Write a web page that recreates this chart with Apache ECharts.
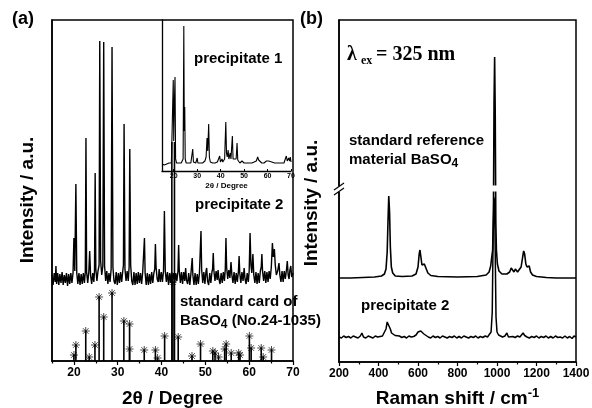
<!DOCTYPE html>
<html>
<head>
<meta charset="utf-8">
<script src="https://cdn.jsdelivr.net/npm/echarts@6.0.0/dist/echarts.min.js"></script>
<style>
html,body{margin:0;padding:0;background:#fff;}
#c{width:592px;height:408px;}
</style>
</head>
<body>
<div id="c"></div>
<script>
// ---------- DATA ----------
// XRD axis ticks
const xrdTicks = [20, 30, 40, 50, 60, 70];
const xrdMinor = [15, 25, 35, 45, 55, 65];

// Standard card BaSO4 (No.24-1035): stick positions (2θ) and heights (a.u.)
const cardPos = [20.0, 20.45, 22.7, 23.5, 24.8, 25.75, 26.8, 28.7, 31.4, 32.7, 32.7, 36.05, 38.6, 39.1, 40.7, 42.6, 43.8, 46.95, 48.9, 51.7, 52.2, 53.0, 54.4, 54.75, 55.9, 57.6, 57.9, 60.05, 60.45, 62.75, 63.2, 65.1];
const cardInt = [6, 16, 30, 4, 16, 64, 44, 68, 40, 37, 12, 11, 11, 3, 25, 79, 24, 5, 17, 10, 8, 4, 12, 17, 8, 8, 6, 25, 13, 13, 4, 11];
// very tall doublet line near 42.7°
const tallPos = [42.35, 42.95];
const tallInt = [219, 219];

// precipitate 2 XRD pattern [2θ, intensity]
const prec2XRD = [
[15.0,86],[15.25,76],[15.5,88],[15.75,79],[15.9,95],[16.05,77],[16.3,88],[16.55,76],[16.8,87],[17.05,78],[17.3,89],[17.55,76],[17.8,86],[18.05,78],[18.3,88],[18.55,75],[18.8,87],[19.05,77],[19.3,88],[19.55,78],[19.8,88],
[20.0,123],[20.2,90],[20.45,177],[20.65,88],[20.9,77],[21.15,88],[21.4,76],[21.65,87],[21.9,77],[22.15,88],[22.4,78],[22.6,89],
[22.75,223],[22.9,89],[23.15,78],[23.4,89],[23.6,110],[23.8,86],[24.05,77],[24.3,88],[24.55,79],[24.7,90],
[24.85,188],[25.0,92],[25.25,80],[25.5,90],[25.75,96],
[25.9,320],[26.1,100],[26.35,86],[26.6,95],
[26.8,319],[27.0,95],[27.25,80],[27.5,90],[27.75,77],[28.0,88],[28.25,79],[28.5,92],
[28.7,314],[28.9,94],[29.15,80],[29.4,77],[29.65,89],[29.9,76],[30.15,88],[30.4,78],[30.65,89],[30.9,79],[31.15,90],[31.3,96],
[31.45,237],[31.65,92],[31.9,80],[32.15,90],[32.4,80],[32.6,94],
[32.75,212],[32.95,96],[33.2,80],[33.45,76],[33.7,89],[33.95,76],[34.2,88],[34.45,77],[34.7,89],[34.95,78],[35.2,88],[35.45,77],[35.7,89],[35.95,90],
[36.1,123],[36.25,88],[36.5,76],[36.75,88],[37.0,76],[37.25,87],[37.5,77],[37.75,89],[38.0,78],[38.25,88],[38.45,92],
[38.6,117],[38.75,94],[39.0,82],[39.25,79],[39.45,92],[39.7,79],[39.95,89],[40.2,79],[40.45,90],
[40.65,150],[40.85,90],[41.1,79],[41.35,89],[41.6,76],[41.85,88],[42.1,78],[42.3,89],
[42.5,80],[42.75,88],[43.0,78],[43.25,88],[43.5,80],[43.75,90],
[43.9,116],[44.05,90],[44.3,78],[44.55,89],[44.8,77],[45.05,89],[45.3,80],[45.5,93],[45.7,81],[45.95,77],[46.2,88],[46.45,76],[46.7,87],[46.85,89],
[47.0,103],[47.15,86],[47.4,76],[47.65,88],[47.9,76],[48.15,87],[48.4,77],[48.65,88],[48.85,90],
[49.0,130],[49.15,92],[49.4,78],[49.65,89],[49.9,77],[50.15,90],[50.3,93],[50.5,80],[50.75,76],[51.0,88],[51.25,78],[51.5,89],[51.65,92],
[51.8,108],[51.95,90],[52.2,80],[52.45,90],[52.7,81],[52.9,91],[53.1,82],[53.35,77],[53.6,88],[53.85,78],[54.1,89],[54.35,80],[54.55,92],
[54.7,123],[54.85,94],[55.1,82],[55.35,91],[55.6,83],[55.85,99],[56.05,86],[56.3,78],[56.55,89],[56.8,77],[57.05,88],[57.3,79],[57.55,90],
[57.7,105],[57.85,88],[58.1,78],[58.35,89],[58.6,80],[58.85,93],[59.05,82],[59.3,77],[59.55,88],[59.8,79],[60.0,90],
[60.2,128],[60.4,96],[60.6,88],[60.85,107],[61.05,86],[61.3,78],[61.55,89],[61.8,77],[62.05,88],[62.3,78],[62.55,90],[62.75,94],
[62.9,107],[63.05,90],[63.3,80],[63.55,90],[63.8,78],[64.05,89],[64.3,79],[64.55,90],[64.8,82],[65.05,94],
[65.3,118],[65.5,104],[65.75,112],[65.95,96],[66.2,86],[66.5,90],[66.8,98],[67.0,86],[67.25,79],[67.5,90],[67.75,79],[68.0,90],[68.25,82],[68.5,91],
[68.7,100],[68.9,86],[69.1,82],[69.3,91],[69.5,95],[69.7,84],[70.0,88]
];

// precipitate 1 XRD pattern (inset) [2θ, intensity]
const prec1XRD = [
[15,7],[15.5,8],[16,6],[16.5,8],[17,7],[17.5,6],[18,8],[18.5,7],[19,8],[19.5,10],[19.8,91],[20.0,30],[20.2,60],[20.55,94],[20.8,12],[21.2,8],[21.7,7],[22.2,8],[22.7,7],[23.2,8],[23.7,9],[24.0,12],[24.3,145],[24.5,40],[24.7,64],[24.9,12],[25.3,8],[25.8,7],[26.3,8],[26.8,7],[27.3,8],[27.8,10],[28.1,22],[28.4,9],[28.9,8],[29.4,8],[29.7,9],[30.0,13],[30.3,8],[30.8,7],[31.3,8],[31.8,7],[32.3,8],[32.8,9],[33.3,10],[33.8,14],[34.2,33],[34.5,20],[34.9,47],[35.2,14],[35.6,9],[36.1,8],[36.6,8],[37.1,7],[37.6,8],[38.1,8],[38.6,9],[39.1,10],[39.6,15],[39.9,9],[40.3,10],[40.6,12],[40.9,9],[41.3,9],[41.7,12],[42.2,49],[42.5,18],[42.8,14],[43.2,21],[43.5,12],[43.8,13],[44.1,18],[44.4,12],[44.7,14],[45.0,35],[45.3,12],[45.8,14],[46.1,10],[46.6,12],[47.0,28],[47.3,11],[47.7,9],[48.2,8],[48.6,9],[49.1,10],[49.5,8],[50.0,8],[50.5,7],[51.0,8],[51.5,7],[52.0,8],[52.4,9],[52.8,8],[53.3,8],[53.8,9],[54.3,9],[54.8,11],[55.2,10],[55.8,14],[56.2,11],[56.6,12],[57.0,9],[57.5,8],[58.0,8],[58.5,8],[59.0,9],[59.5,10],[60.0,9],[60.5,10],[60.9,12],[61.3,10],[61.8,9],[62.1,10],[62.5,8],[63,8],[63.5,7],[64,8],[64.5,7],[65,8],[65.5,7],[66,8],[66.5,7],[67,8],[67.5,9],[68.0,15],[68.4,10],[69.0,13],[69.4,10],[69.7,14],[70,9]
];

// Raman: standard reference material BaSO4 [shift, intensity]
const ramanStd = [
[200,84],[260,84],[320,84.5],[380,85],[415,86],[430,88],[438,93],[444,110],[448,140],[452,166],[456,150],[460,115],[465,95],[472,89],[485,86],[520,85.5],[570,86],[590,88],[600,95],[606,108],[610,112],[614,106],[620,97],[626,95],[632,98],[637,97],[642,93],[650,89],[665,86.5],[700,85.5],[800,85],[900,85.5],[945,87],[960,90],[968,96],[974,106],[978,112],[982,150],[985,260],[988,305],[991,250],[994,140],[997,112],[1002,98],[1010,91],[1025,88],[1050,88],[1064,90],[1072,94],[1078,92],[1086,90],[1093,93],[1098,94],[1104,90],[1112,90],[1122,95],[1130,105],[1135,111],[1140,108],[1146,98],[1152,95],[1158,97],[1163,96],[1170,90],[1180,87],[1200,85.5],[1250,84.5],[1300,84],[1400,84]
];

// Raman: precipitate 2 [shift, intensity]
const ramanPrec2 = [
[200,25],[212,24],[224,26],[236,24.5],[248,25.5],[260,24],[272,26],[284,25],[296,24],[308,26],[316,29],[324,25],[336,24],[348,26],[360,25],[372,24],[384,26],[396,25],[408,25.5],[420,26],[430,28],[438,33],[444,40],[449,42],[454,40],[460,33],[466,29],[474,27],[484,26.5],[494,25],[506,26],[518,24.5],[530,25.5],[542,24],[554,26],[566,25],[578,25.5],[590,27],[600,30],[607,32],[614,31],[622,29],[630,28],[640,26],[652,25],[664,24],[676,26],[688,24.5],[700,25.5],[712,24],[724,26],[736,25],[748,24],[760,25.5],[772,24.5],[784,26],[796,24],[808,25.5],[820,24],[832,26],[844,25],[856,24],[868,25.5],[880,24.5],[892,26],[904,24],[916,25.5],[928,24.5],[940,26],[952,25],[962,27],[970,30],[976,50],[980,120],[984,165],[988,160],[991,110],[995,45],[1000,30],[1008,27],[1018,26],[1028,25],[1040,26],[1050,29],[1058,25],[1068,24],[1080,25.5],[1092,24.5],[1104,26],[1116,25],[1126,26.5],[1132,29],[1140,26.5],[1152,25],[1164,24],[1176,25.5],[1188,24.5],[1200,26],[1212,24],[1224,25.5],[1236,24.5],[1248,26],[1260,24],[1272,25.5],[1284,24],[1296,26],[1308,24.5],[1320,25],[1332,24],[1344,26],[1356,24],[1368,25.5],[1380,23.5],[1390,26],[1400,25]
];

// ---------- CHART ----------
const FONT = "Arial, 'Liberation Sans', sans-serif";
const SERIF = "'Times New Roman', 'Liberation Serif', serif";
const STAR = 'path://M5,0L5,10M0,5L10,5M1.5,1.5L8.5,8.5M1.5,8.5L8.5,1.5';

const sticks = cardPos.map((p, i) => [p, cardInt[i]]).concat(tallPos.map((p, i) => [p, tallInt[i]]));
const stars = cardPos.map((p, i) => [p, cardInt[i]]);

const black = '#000';
const titleStyle = {fontSize: 19, fontWeight: 'bold', color: black, fontFamily: FONT};
const labelStyle = {fontSize: 12, fontWeight: 'bold', color: black, fontFamily: FONT};

function txt(t, x, y, size, family) {
  return {type: 'text', x: x, y: y, z: 100,
    style: {text: t, font: 'bold ' + size + 'px ' + (family || FONT), fill: black, verticalAlign: 'middle', align: 'left'}};
}
function vtxt(t, x, y) {
  return {type: 'text', x: x, y: y, rotation: Math.PI / 2, z: 100,
    style: {text: t, font: 'bold 19px ' + FONT, fill: black, verticalAlign: 'middle', align: 'center'}};
}
function richTxt(t, x, y) {
  return {type: 'text', x: x, y: y, z: 100,
    style: {text: t, font: 'bold 15px ' + FONT, fill: black, verticalAlign: 'middle', align: 'left', lineHeight: 20,
      rich: {s: {font: 'bold 12px ' + FONT, fill: black, lineHeight: 12, verticalAlign: 'bottom'}}}};
}

const chart = echarts.init(document.getElementById('c'), null, {renderer: 'canvas'});
chart.setOption({
  animation: false,
  backgroundColor: '#fff',
  grid: [
    {left: 52, top: 20, width: 241, height: 341, show: true, borderColor: black, borderWidth: 1.5, backgroundColor: 'transparent', containLabel: false, outerBoundsMode: 'none'},
    {left: 162, top: 20, width: 129, height: 151, show: false, containLabel: false, outerBoundsMode: 'none'},
    {left: 339, top: 20, width: 237, height: 342, show: true, borderColor: black, borderWidth: 1.5, backgroundColor: 'transparent', containLabel: false, outerBoundsMode: 'none'}
  ],
  xAxis: [
    {gridIndex: 0, type: 'value', min: 15, max: 70, position: 'bottom',
      axisLine: {onZero: false, lineStyle: {color: black, width: 1.5}},
      axisTick: {customValues: xrdTicks, length: 4, lineStyle: {color: black, width: 1.2}},
      axisLabel: Object.assign({customValues: xrdTicks, margin: 6}, labelStyle),
      splitLine: {show: false},
      name: '2θ / Degree', nameLocation: 'middle', nameGap: 28, nameTextStyle: titleStyle},
    {gridIndex: 0, type: 'value', min: 15, max: 70, position: 'bottom',
      axisLine: {show: false, onZero: false},
      axisTick: {customValues: xrdMinor, length: 2.5, lineStyle: {color: black, width: 1.2}},
      axisLabel: {show: false}, splitLine: {show: false}},
    {gridIndex: 1, type: 'value', min: 15, max: 70, position: 'bottom',
      axisLine: {onZero: false, lineStyle: {color: black, width: 1.3}},
      axisTick: {customValues: xrdTicks, inside: true, length: 2, lineStyle: {color: black, width: 1}},
      axisLabel: {customValues: xrdTicks, margin: 2, fontSize: 7, fontWeight: 'bold', color: black, fontFamily: FONT},
      splitLine: {show: false},
      name: '2θ / Degree', nameLocation: 'middle', nameGap: 11,
      nameTextStyle: {fontSize: 8, fontWeight: 'bold', color: black, fontFamily: FONT}},
    {gridIndex: 2, type: 'value', min: 200, max: 1400, interval: 200, position: 'bottom',
      axisLine: {onZero: false, lineStyle: {color: black, width: 1.5}},
      axisTick: {length: 4, lineStyle: {color: black, width: 1.2}},
      minorTick: {show: true, splitNumber: 2, length: 2.5, lineStyle: {color: black, width: 1.2}},
      axisLabel: Object.assign({margin: 6, showMaxLabel: true, showMinLabel: true, formatter: function (v) { return String(v); }}, labelStyle),
      splitLine: {show: false}, minorSplitLine: {show: false},
      name: 'Raman shift / cm{sup|-1}', nameLocation: 'middle', nameGap: 25,
      nameTextStyle: Object.assign({lineHeight: 24, rich: {sup: {fontSize: 13, fontWeight: 'bold', color: black, fontFamily: FONT, lineHeight: 13, verticalAlign: 'top'}}}, titleStyle)}
  ],
  yAxis: [
    {gridIndex: 0, type: 'value', min: 0, max: 341,
      axisLine: {show: true, onZero: false, lineStyle: {color: black, width: 1.5}},
      axisTick: {show: false}, axisLabel: {show: false}, splitLine: {show: false}},
    {gridIndex: 1, type: 'value', min: 0, max: 151,
      axisLine: {show: true, onZero: false, lineStyle: {color: black, width: 1.3}},
      axisTick: {show: false}, axisLabel: {show: false}, splitLine: {show: false}},
    {gridIndex: 2, type: 'value', min: 0, max: 342,
      axisLine: {show: true, onZero: false, lineStyle: {color: black, width: 1.5}},
      axisTick: {show: false}, axisLabel: {show: false}, splitLine: {show: false}}
  ],
  series: [
    {name: 'card', type: 'bar', xAxisIndex: 0, yAxisIndex: 0, data: sticks, barWidth: 1.6,
      itemStyle: {color: black}, z: 2, silent: true},
    {name: 'cardStars', type: 'scatter', xAxisIndex: 0, yAxisIndex: 0, data: stars, symbol: STAR, symbolSize: 8,
      itemStyle: {color: black, borderColor: black, borderWidth: 0.9}, z: 4, silent: true},
    {name: 'precipitate 2', type: 'line', xAxisIndex: 0, yAxisIndex: 0, data: prec2XRD, symbol: 'none', showSymbol: false,
      lineStyle: {color: black, width: 1.4}, z: 3, silent: true},
    {name: 'precipitate 1', type: 'line', xAxisIndex: 2, yAxisIndex: 1, data: prec1XRD, symbol: 'none', showSymbol: false,
      lineStyle: {color: black, width: 1.1}, z: 5, silent: true},
    {name: 'standard', type: 'line', xAxisIndex: 3, yAxisIndex: 2, data: ramanStd, symbol: 'none', showSymbol: false,
      lineStyle: {color: black, width: 1.6}, z: 3, silent: true},
    {name: 'precipitate 2 Raman', type: 'line', xAxisIndex: 3, yAxisIndex: 2, data: ramanPrec2, symbol: 'none', showSymbol: false,
      lineStyle: {color: black, width: 1.5}, z: 3, silent: true}
  ],
  graphic: [
    txt('(a)', 12, 19, 18),
    txt('(b)', 300, 19, 18),
    vtxt('Intensity / a.u.', 28, 200),
    vtxt('Intensity / a.u.', 312, 203),
    txt('precipitate 1', 194, 59, 15),
    txt('precipitate 2', 195, 205, 15),
    txt('standard card of', 180, 302, 15),
    richTxt('BaSO{s|4} (No.24-1035)', 180, 321),
    txt('standard reference', 349, 141, 15),
    richTxt('material BaSO{s|4}', 349, 160),
    txt('precipitate 2', 361, 306, 15),
    txt('λ', 347, 55, 20, SERIF),
    txt('ex', 361, 61, 12, SERIF),
    txt('= 325 nm', 376, 55, 20, SERIF),
    // axis break
    {type: 'rect', z: 100, shape: {x: 336, y: 186, width: 6, height: 6}, style: {fill: '#fff'}},
    {type: 'rect', z: 100, shape: {x: 489, y: 185.5, width: 11, height: 6}, style: {fill: '#fff'}},
    {type: 'line', z: 101, shape: {x1: 334, y1: 190, x2: 344, y2: 183}, style: {stroke: black, lineWidth: 1.2}},
    {type: 'line', z: 101, shape: {x1: 334, y1: 195, x2: 344, y2: 188}, style: {stroke: black, lineWidth: 1.2}}
  ]
});
</script>
</body>
</html>
